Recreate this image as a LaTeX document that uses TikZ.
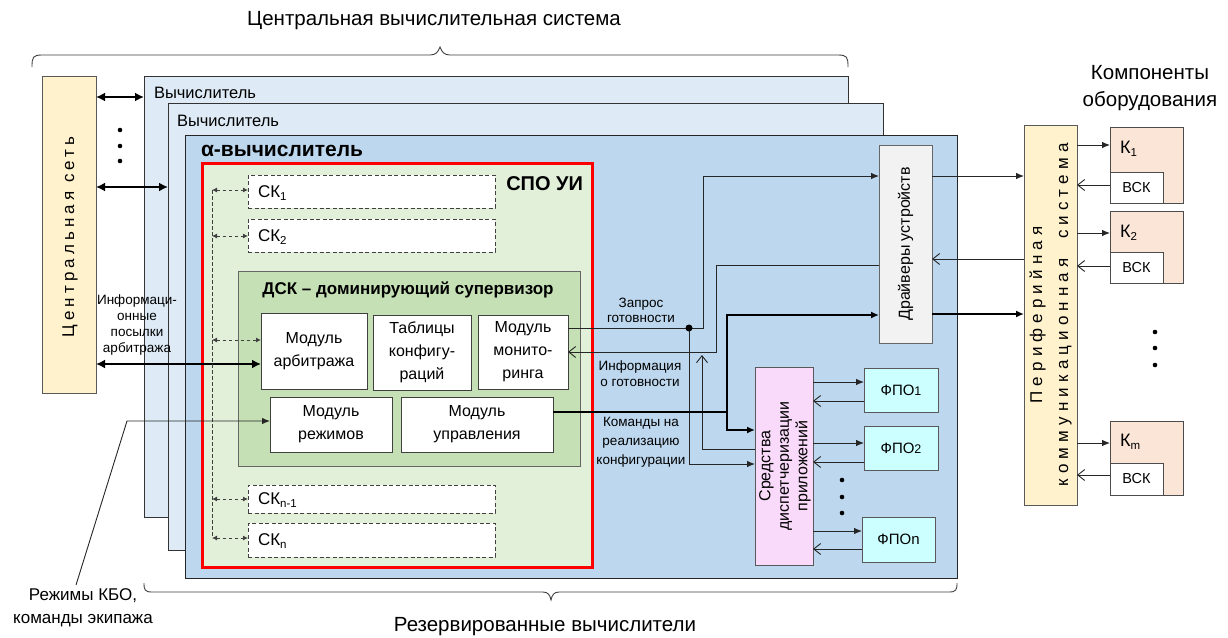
\documentclass[tikz,border=0pt]{standalone}
\usepackage{fontspec}
\setmainfont{Liberation Sans}
\newfontfamily\spacedA[LetterSpace=24]{Liberation Sans}
\newfontfamily\spacedB[LetterSpace=30]{Liberation Sans}
\usetikzlibrary{arrows.meta,calc}
\definecolor{cnetfill}{HTML}{FFF2CC}
\definecolor{compfill}{HTML}{DEEBF7}
\definecolor{alphafill}{HTML}{BDD7EE}
\definecolor{spofill}{HTML}{E2F0D9}
\definecolor{dskfill}{HTML}{C5E0B4}
\definecolor{drvfill}{HTML}{F2F2F2}
\definecolor{dispfill}{RGB}{250,218,250}
\definecolor{fpofill}{HTML}{CCFFFF}
\definecolor{kfill}{HTML}{FBE5D6}
\definecolor{spored}{RGB}{255,0,0}
\newcommand\fs[2]{\fontsize{#1}{#2}\selectfont}
\newcommand\lowidx[1]{\raisebox{-0.35ex}{\fs{11.5}{12}#1}}
% \rnode{style}{name}{x1}{y1}{x2}{y2}{text}
\newcommand\rnode[7]{\node[#1, minimum width={(#5)-(#3)}, minimum height={(#6)-(#4)}, anchor=center] (#2) at ({((#3)+(#5))/2},{((#4)+(#6))/2}) {#7};}
\begin{document}
\begin{tikzpicture}[x=1pt,y=-1pt,
  every node/.style={inner sep=0pt, outer sep=0pt},
  box/.style={draw=black!70, line width=0.9pt},
  compbox/.style={box, fill=compfill, draw=black!80},
  alphabox/.style={box, fill=alphafill, draw=black!85},
  spobox/.style={fill=spofill, draw=spored, line width=3pt},
  ckbox/.style={fill=white, draw=black!75, line width=0.9pt, dash pattern=on 4pt off 2.5pt},
  dskbox/.style={box, fill=dskfill, draw=black!60},
  modbox/.style={box, fill=white, draw=black!75, align=center, font=\fs{16}{23}},
  drvbox/.style={box, fill=drvfill, draw=black!60},
  dispbox/.style={box, fill=dispfill, draw=black!65},
  fpobox/.style={box, fill=fpofill, draw=black!65, font=\fs{15}{18}},
  perbox/.style={box, fill=cnetfill, draw=black!65},
  kbox/.style={box, fill=kfill, draw=black!70},
  vskbox/.style={box, fill=white, draw=black!70, font=\fs{14.5}{17}},
  ln/.style={draw=black!85, line width=0.9pt},
  fatline/.style={draw=black, line width=2.5pt},
  dashln/.style={draw=black!75, line width=0.9pt, dash pattern=on 3.5pt off 2.5pt},
  fa/.style={-{Latex[length=8pt,width=6.5pt]}},
  oa/.style={-{Straight Barb[length=7pt,width=11pt]}},
  dbl/.style={{Latex[length=9pt,width=9pt]}-{Latex[length=9pt,width=9pt]}},
  dsm/.style={{Latex[length=5pt,width=5pt]}-{Latex[length=5pt,width=5pt]}},
  brace/.style={draw=black!75, line width=0.9pt},
  lbl/.style={font=\fs{13.5}{16}, align=center},
  dot/.style={fill=black}
]
\useasboundingbox[fill=white] (0,0) rectangle (1228,637);

% braces
\draw[brace] (32,67) .. controls (32,57) and (33,55) .. (42,55) -- (430,55)
  .. controls (436,55) and (438,52) .. (440,47) .. controls (442,52) and (444,55) .. (450,55)
  -- (838,55) .. controls (847,55) and (848,57) .. (848,67);
\draw[brace] (144,583) .. controls (144,590) and (145,592) .. (152,592) -- (543,592)
  .. controls (548,592) and (550,595) .. (551,600) .. controls (552,595) and (554,592) .. (559,592)
  -- (949,592) .. controls (956,592) and (957,590) .. (957,583);
\node[font=\fs{20.5}{24}] (ttop) at (434,21) {Центральная вычислительная система};
\node[font=\fs{20.5}{24}] (tbot) at (545,627) {Резервированные вычислители};

% central network
\rnode{perbox}{cnet}{42}{76}{96}{393}{}
\node[rotate=90, font=\spacedA\fs{17}{20}] (cnetlbl) at (70,237) {Центральная сеть};

% computers
\rnode{compbox}{comp1}{144}{76}{848}{517}{}
\node[font=\fs{16.5}{20}, anchor=west] (comp1lbl) at (154,93) {Вычислитель};
\rnode{compbox}{comp2}{168}{103}{883}{550}{}
\node[font=\fs{16.5}{20}, anchor=west] (comp2lbl) at (177,121) {Вычислитель};
\rnode{alphabox}{alpha}{185}{135}{957}{578}{}
\node[font=\bfseries\fs{21}{24}, anchor=west] (alphalbl) at (201,151) {α-вычислитель};

% SPO UI
\rnode{spobox}{spo}{202}{163}{592}{567}{}
\node[font=\bfseries\fs{20}{24}, anchor=east] (spolbl) at (583,184) {СПО УИ};
\rnode{ckbox}{ck1}{248}{175}{495}{208}{}
\node[font=\fs{17}{20}, anchor=west] (ck1lbl) at (258,193) {СК\lowidx{1}};
\rnode{ckbox}{ck2}{248}{219}{495}{252}{}
\node[font=\fs{17}{20}, anchor=west] (ck2lbl) at (258,237) {СК\lowidx{2}};
\rnode{ckbox}{ckn1}{248}{485}{495}{513}{}
\node[font=\fs{17}{20}, anchor=west] (ckn1lbl) at (258,500) {СК\lowidx{n-1}};
\rnode{ckbox}{ckn}{248}{523}{495}{557}{}
\node[font=\fs{17}{20}, anchor=west] (cknlbl) at (258,541) {СК\lowidx{n}};

% DSK
\rnode{dskbox}{dsk}{238}{271}{580}{466}{}
\node[font=\bfseries\fs{17}{20}] (dsklbl) at (408,290) {ДСК – доминирующий супервизор};
\rnode{modbox}{arb}{261}{313}{367}{389}{Модуль\\арбитража}
\rnode{modbox}{tab}{373}{315}{471}{390}{Таблицы\\конфигу-\\раций}
\rnode{modbox}{mon}{478}{315}{568}{389}{Модуль\\монито-\\ринга}
\rnode{modbox}{mod}{270}{397}{392}{452}{Модуль\\режимов}
\rnode{modbox}{upr}{401}{397}{553}{452}{Модуль\\управления}

% drivers, dispatcher, FPO
\rnode{drvbox}{drv}{879}{145}{932}{343}{}
\node[rotate=90, font=\fs{16}{19}] (drvlbl) at (drv.center) {Драйверы устройств};
\rnode{dispbox}{disp}{755}{367}{813}{565}{}
\node[rotate=90, font=\fs{16}{18.5}, align=center] (displbl) at (785,466) {Средства\\диспетчеризации\\приложений};
\rnode{fpobox}{f1}{864}{368}{938}{412}{ФПО{\fs{12.5}{14}1}}
\rnode{fpobox}{f2}{864}{426}{938}{470}{ФПО{\fs{12.5}{14}2}}
\rnode{fpobox}{fn}{862}{517}{935}{562}{ФПОn}

% peripheral and components
\rnode{perbox}{per}{1024}{125}{1077}{505}{}
\node[rotate=90, font=\spacedB\fs{17}{26}, align=center] (perlbl) at (per.center) {Периферийная\\коммуникационная\ \ система};
\node[font=\fs{20.5}{27}, align=center] (complbl) at (1150,88) {Компоненты\\оборудования};
\rnode{kbox}{k1}{1110}{127}{1183}{203}{}
\rnode{vskbox}{v1}{1110}{172}{1163}{203}{ВСК}
\node[font=\fs{18}{20}, anchor=west] (k1lbl) at (1120,149) {К\lowidx{1}};
\rnode{kbox}{k2}{1110}{211}{1183}{283}{}
\rnode{vskbox}{v2}{1110}{252}{1163}{283}{ВСК}
\node[font=\fs{18}{20}, anchor=west] (k2lbl) at (1120,233) {К\lowidx{2}};
\rnode{kbox}{km}{1110}{421}{1183}{495}{}
\rnode{vskbox}{vm}{1110}{463}{1163}{495}{ВСК}
\node[font=\fs{18}{20}, anchor=west] (kmlbl) at (1120,442) {К\lowidx{m}};

% left connectors
\draw[fatline, dbl] (cnet.east |- 0,97) -- (comp1.west |- 0,97);
\draw[fatline, dbl] (cnet.east |- 0,187) -- (comp2.west |- 0,187);
\draw[fatline, dbl] (cnet.east |- 0,364) -- (arb.west |- 0,364);
\fill[dot] (120,130) circle (2.3pt) (120,146) circle (2.3pt) (120,161) circle (2.3pt);
\node[lbl, font=\fs{13.5}{16.3}] (infolbl) at (137,325) {Информаци-\\онные\\посылки\\арбитража};

% dashed bus
\coordinate (busTop) at (212,190);
\coordinate (busBot) at (212,538);
\draw[dashln] (busTop) -- (busBot);
\draw[dashln, dsm] (busTop) -- (ck1.west |- busTop);
\draw[dashln, dsm] (busTop |- 0,236) -- (ck2.west |- 0,236);
\draw[dashln, dsm] (busTop |- 0,340) -- (arb.west |- 0,340);
\draw[dashln, dsm] (busTop |- 0,499) -- (ckn1.west |- 0,499);
\draw[dashln, dsm] (busBot) -- (ckn.west |- busBot);

% crew commands
\coordinate (crewsrc) at (76,585);
\draw[ln, fa] (crewsrc) -- (127,421) -- (mod.west |- 0,421);
\node[font=\fs{17}{23}, align=center] (crewlbl) at (83,608) {Режимы КБО,\\команды экипажа};

% readiness request / info
\coordinate (jq) at (689,328);
\draw[ln, fa] (mon.east |- jq) -| (703,176) -- (drv.west |- 0,176);
\draw[ln, fa] (jq) |- (disp.west |- 0,464);
\fill[dot] (jq) circle (3.5pt);
\draw[ln, oa] (drv.west |- 0,265) -| (716,352) -- (mon.east |- 0,352);
\draw[ln, oa] (disp.west |- 0,449) -| (702,355);
\draw[fatline] (upr.east |- 0,412) -- (727,412);
\draw[fatline, {Latex[length=8pt,width=7pt]}-{Latex[length=8pt,width=7pt]}] (drv.west |- 0,315) -| (727,430) -- (disp.west |- 0,430);
\node[lbl, font=\fs{13.5}{15}] (reqlbl) at (641,310) {Запрос\\готовности};
\node[lbl, font=\fs{13.5}{16}] (rdylbl) at (640,374) {Информация\\о готовности};
\node[lbl, font=\fs{13.5}{19}] (cmdlbl) at (641,442) {Команды на\\реализацию\\конфигурации};

% drivers to peripheral
\draw[ln, fa] (drv.east |- 0,176) -- (per.west |- 0,176);
\draw[ln, oa] (per.west |- 0,259) -- (drv.east |- 0,259);
\draw[fatline, -{Latex[length=8pt,width=7pt]}] (drv.east |- 0,314) -- (per.west |- 0,314);

% dispatcher to FPO
\draw[ln, fa] (disp.east |- 0,382) -- (f1.west |- 0,382);
\draw[ln, oa] (f1.west |- 0,401) -- (disp.east |- 0,401);
\draw[ln, fa] (disp.east |- 0,443) -- (f2.west |- 0,443);
\draw[ln, oa] (f2.west |- 0,462) -- (disp.east |- 0,462);
\draw[ln, fa] (disp.east |- 0,531) -- (fn.west |- 0,531);
\draw[ln, oa] (fn.west |- 0,549) -- (disp.east |- 0,549);
\fill[dot] (842,480) circle (2.3pt) (842,497) circle (2.3pt) (842,513) circle (2.3pt);

% peripheral to components
\draw[ln, fa] (per.east |- 0,145) -- (k1.west |- 0,145);
\draw[ln, oa] (v1.west |- 0,185) -- (per.east |- 0,185);
\draw[ln, fa] (per.east |- 0,233) -- (k2.west |- 0,233);
\draw[ln, oa] (v2.west |- 0,266) -- (per.east |- 0,266);
\draw[ln, fa] (per.east |- 0,443) -- (km.west |- 0,443);
\draw[ln, oa] (vm.west |- 0,475) -- (per.east |- 0,475);
\fill[dot] (1155,332) circle (2.3pt) (1155,348) circle (2.3pt) (1155,365) circle (2.3pt);
\end{tikzpicture}
\end{document}
